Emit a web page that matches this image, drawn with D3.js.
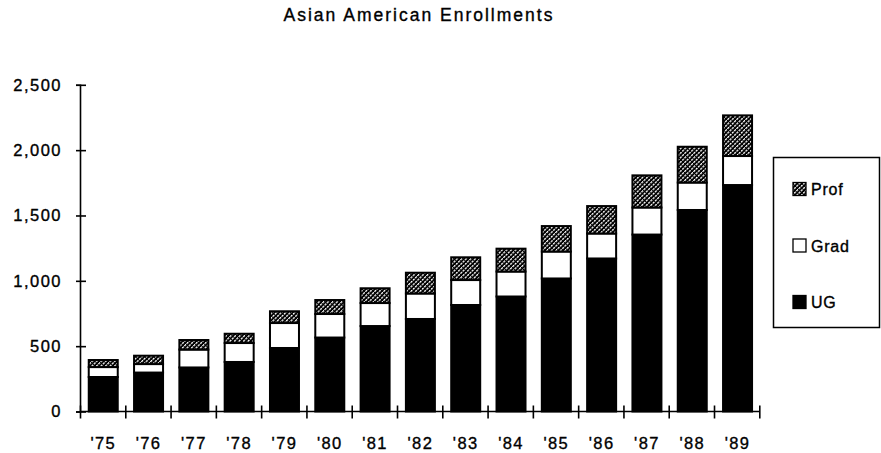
<!DOCTYPE html>
<html>
<head>
<meta charset="utf-8">
<script src="https://cdn.jsdelivr.net/npm/d3@7"></script>
<style>
    body { margin: 0; background: #fff; }
    text { font-family: "Liberation Sans", Arial, Helvetica, sans-serif; fill: #000; stroke: #000; stroke-width: 0.35px; }
</style>
</head>
<body>
<div id="main"></div>
<script>
const ctx = {
    w: 881,
    h: 453,
    left: 80,
    right: 759.3,
    top: 84.8,
    bottom: 411.5
};

// data
const years = ["'75", "'76", "'77", "'78", "'79", "'80", "'81", "'82",
    "'83", "'84", "'85", "'86", "'87", "'88", "'89"];
const ug = [264, 298, 337, 379, 486, 566, 654, 708, 815, 880, 1018, 1171, 1354, 1542, 1733];
const grad = [76, 65, 137, 145, 191, 180, 176, 195, 191, 191, 206, 191, 207, 210, 222];
const prof = [54, 64, 73, 71, 90, 107, 113, 159, 174, 175, 195, 210, 246, 274, 311];
const seriesKeys = ["UG", "Grad", "Prof"];
const yTicks = [0, 500, 1000, 1500, 2000, 2500];
const legendItems = ["Prof", "Grad", "UG"];

function createViz() {
    let svgEl = d3.select("#main").append("svg")
        .attr("width", ctx.w)
        .attr("height", ctx.h);

    // hatch pattern for "Prof"
    let defs = svgEl.append("defs");
    let pat = defs.append("pattern")
        .attr("id", "hatch")
        .attr("patternUnits", "userSpaceOnUse")
        .attr("width", 3.2)
        .attr("height", 3.2)
        .attr("patternTransform", "rotate(45)");
    pat.append("rect").attr("width", 3.2).attr("height", 3.2).attr("fill", "#000");
    pat.append("rect").attr("x", 0).attr("y", 0).attr("width", 1.3).attr("height", 2.3).attr("fill", "#fff");

    let fills = { UG: "#000", Grad: "#fff", Prof: "url(#hatch)" };

    svgEl.append("text")
        .attr("x", 419)
        .attr("y", 21)
        .attr("text-anchor", "middle")
        .style("font-size", "17.5px")
        .style("letter-spacing", "2px")
        .text("Asian American Enrollments");

    let x = d3.scaleBand()
        .domain(years)
        .range([ctx.left + 1.5, ctx.right])
        .paddingInner(0.36)
        .paddingOuter(0.16);
    let y = d3.scaleLinear()
        .domain([0, 2500])
        .range([ctx.bottom, ctx.top]);

    let table = years.map((yr, i) => ({ year: yr, UG: ug[i], Grad: grad[i], Prof: prof[i] }));
    let stacked = d3.stack().keys(seriesKeys)(table);

    let barG = svgEl.append("g").attr("id", "bars");
    barG.selectAll("g.series")
        .data(stacked)
        .enter()
        .append("g")
        .attr("class", "series")
        .attr("fill", d => fills[d.key])
        .selectAll("rect")
        .data(d => d)
        .enter()
        .append("rect")
        .attr("x", d => x(d.data.year))
        .attr("y", d => y(d[1]))
        .attr("width", x.bandwidth())
        .attr("height", d => y(d[0]) - y(d[1]))
        .attr("stroke", "#000")
        .attr("stroke-width", 2);

    // y axis, ticks crossing the line
    let yAxis = svgEl.append("g")
        .attr("transform", `translate(${ctx.left},0)`)
        .call(d3.axisLeft(y)
            .tickValues(yTicks)
            .tickSize(4)
            .tickPadding(14)
            .tickFormat(d3.format(",")));
    yAxis.select(".domain").attr("stroke-width", 1.6);
    yAxis.selectAll(".tick line").attr("x1", 6).attr("stroke-width", 1.6);
    yAxis.selectAll("text")
        .style("font-size", "16.5px")
        .style("letter-spacing", "1.5px")
        .attr("fill", "#000");

    // x axis: category boundaries get the ticks, labels sit under bars
    let xEdge = d3.scaleLinear()
        .domain([0, years.length])
        .range([ctx.left, ctx.right]);
    let xTickAxis = svgEl.append("g")
        .attr("transform", `translate(0,${ctx.bottom})`)
        .call(d3.axisBottom(xEdge)
            .tickValues(d3.range(0, years.length + 1))
            .tickSize(7)
            .tickFormat(""));
    xTickAxis.select(".domain").attr("d", `M${ctx.left},0H${ctx.right}`).attr("stroke-width", 1.6);
    xTickAxis.selectAll(".tick line").attr("y1", -6).attr("stroke-width", 1.6);

    let xLabAxis = svgEl.append("g")
        .attr("transform", `translate(0,${ctx.bottom})`)
        .call(d3.axisBottom(x).tickSize(0).tickPadding(26));
    xLabAxis.select(".domain").remove();
    xLabAxis.selectAll("text")
        .style("font-size", "16.5px")
        .style("letter-spacing", "1.4px")
        .attr("fill", "#000");

    // legend
    let legG = svgEl.append("g").attr("id", "legend");
    legG.append("rect")
        .attr("x", 773.5)
        .attr("y", 157.5)
        .attr("width", 106)
        .attr("height", 170)
        .attr("fill", "#fff")
        .attr("stroke", "#000")
        .attr("stroke-width", 1.5);
    let legY = d3.scalePoint()
        .domain(legendItems)
        .range([189, 302]);
    let item = legG.selectAll("g.item")
        .data(legendItems)
        .enter()
        .append("g")
        .attr("class", "item")
        .attr("transform", d => `translate(793,${legY(d)})`);
    item.append("rect")
        .attr("x", 0)
        .attr("y", -6.5)
        .attr("width", 13)
        .attr("height", 13)
        .attr("fill", d => fills[d])
        .attr("stroke", "#000")
        .attr("stroke-width", 1.3);
    item.append("text")
        .attr("x", 18)
        .attr("y", 6)
        .style("font-size", "16px")
        .style("letter-spacing", "0.8px")
        .text(d => d);
}

createViz();
</script>
</body>
</html>
